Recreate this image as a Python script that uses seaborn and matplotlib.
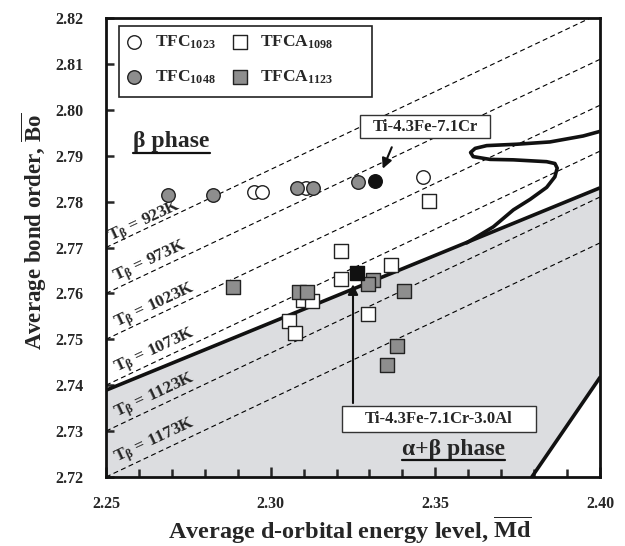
import numpy as np
import pandas as pd
import matplotlib
matplotlib.use('Agg')
import matplotlib.pyplot as plt
from matplotlib.patches import Rectangle
import seaborn as sns

# Marker data (Md, Bo)
tfc1023_md = [2.2949, 2.2973, 2.3107, 2.3462]
tfc1023_bo = [2.7822, 2.7822, 2.7830, 2.7854]
tfc1048_md = [2.2687, 2.2826, 2.3081, 2.3130, 2.3266]
tfc1048_bo = [2.7814, 2.7814, 2.7830, 2.7830, 2.7843]
tfca1098_md = [2.3482, 2.3213, 2.3213, 2.3364, 2.3296, 2.3097, 2.3124, 2.3057, 2.3074]
tfca1098_bo = [2.7802, 2.7692, 2.7631, 2.7662, 2.7556, 2.7586, 2.7584, 2.7540, 2.7514]
tfca1123_md = [2.2887, 2.3087, 2.3109, 2.3310, 2.3297, 2.3406, 2.3383, 2.3352]
tfca1123_bo = [2.7615, 2.7602, 2.7602, 2.7629, 2.7620, 2.7606, 2.7485, 2.7445]
alloy_cr = (2.3317, 2.7845)
alloy_al = (2.3261, 2.7645)

# iso-T_beta lines: values at Md = 2.25 and Md = 2.40
t_beta = [923, 973, 1023, 1073, 1123, 1173]
iso_start = [2.770, 2.760, 2.750, 2.740, 2.730, 2.720]
iso_end = [2.821, 2.811, 2.801, 2.791, 2.781, 2.771]
label_md = [2.2620, 2.2633, 2.2648, 2.2650, 2.2650, 2.2650]
label_bo = [2.7756, 2.7669, 2.7572, 2.7475, 2.7377, 2.7277]

# phase boundaries
bd_md = [2.25, 2.40]
bd_bo = [2.7389, 2.7830]
curve_md = [2.3595, 2.3676, 2.3737, 2.3788, 2.3838, 2.3863, 2.3870, 2.3863, 2.3838,
            2.3737, 2.3666, 2.3615, 2.3607, 2.3621, 2.3656, 2.3747, 2.3848, 2.3949, 2.4000]
curve_bo = [2.7710, 2.7745, 2.7782, 2.7805, 2.7831, 2.7854, 2.7873, 2.7883, 2.7887,
            2.7891, 2.7892, 2.7898, 2.7907, 2.7916, 2.7922, 2.7925, 2.7930, 2.7943, 2.7953]
alpha_md = [2.3793, 2.40]
alpha_bo = [2.72, 2.7417]

sns.set_style('white')
plt.rcParams['font.family'] = ['Liberation Serif', 'DejaVu Serif']
plt.rcParams['font.weight'] = 'bold'
plt.rcParams['axes.labelweight'] = 'bold'
plt.rcParams['mathtext.fontset'] = 'custom'
plt.rcParams['mathtext.rm'] = 'Liberation Serif:bold'
plt.rcParams['mathtext.it'] = 'Liberation Serif:bold'
plt.rcParams['mathtext.bf'] = 'Liberation Serif:bold'

fig, ax = plt.subplots(figsize=(6.25, 5.46), dpi=100)
fig.subplots_adjust(left=0.1696, right=0.96, top=0.967, bottom=0.1264)

# shaded alpha+beta region
poly_x = [bd_md[0], bd_md[0], bd_md[1], alpha_md[1], alpha_md[0]]
poly_y = [alpha_bo[0], bd_bo[0], bd_bo[1], alpha_bo[1], alpha_bo[0]]
ax.fill(poly_x, poly_y, color='#dcdde0', lw=0, zorder=0)

# iso lines
for s, e in zip(iso_start, iso_end):
    ax.plot(bd_md, [s, e], color='k', lw=0.8, ls=(0, (4.5, 3)), zorder=1)
for t, lx, ly in zip(t_beta, label_md, label_bo):
    ax.text(lx, ly, r'T$_{\mathrm{β}}$' + f' = {t}K', fontsize=12.5, fontweight='bold',
            rotation=25, ha='center', va='center', zorder=3)

ax.plot(bd_md, bd_bo, color='#111111', lw=2.6, solid_capstyle='butt', zorder=2)
ax.plot(curve_md, curve_bo, color='#111111', lw=2.6, solid_joinstyle='round', zorder=2)
ax.plot(alpha_md, alpha_bo, color='#111111', lw=2.6, zorder=2)

groups = [
    (r'$\mathrm{TFC}_{1023}$', tfc1023_md, tfc1023_bo, 'o', 'white'),
    (r'$\mathrm{TFC}_{1048}$', tfc1048_md, tfc1048_bo, 'o', '#8e8e8e'),
    (r'$\mathrm{TFCA}_{1098}$', tfca1098_md, tfca1098_bo, 's', 'white'),
    (r'$\mathrm{TFCA}_{1123}$', tfca1123_md, tfca1123_bo, 's', '#8e8e8e'),
]
for i, (name, xs, ys, m, fc) in enumerate(groups):
    df = pd.DataFrame({'md': xs, 'bo': ys})
    sns.scatterplot(data=df, x='md', y='bo', marker=m, color=fc, edgecolor='#222222',
                    linewidth=1.0, s=95, label=name, ax=ax, zorder=4 + i)
ax.scatter([alloy_cr[0]], [alloy_cr[1]], marker='o', s=95, color='#111111', zorder=9)
ax.scatter([alloy_al[0]], [alloy_al[1]], marker='s', s=95, color='#111111', zorder=9)

# annotation boxes
ax.add_patch(Rectangle((2.3271, 2.79386), 0.0395, 0.00501, fc='white', ec='#333333',
                       lw=1, zorder=10))
ax.text(2.34685, 2.79636, 'Ti-4.3Fe-7.1Cr', fontsize=12, ha='center', va='center', zorder=11)
ax.annotate('', xy=(2.3337, 2.7866), xytext=(2.3371, 2.7924),
            arrowprops=dict(arrowstyle='-|>', color='#111111', lw=1.5, mutation_scale=15), zorder=10)
ax.add_patch(Rectangle((2.3217, 2.72980), 0.0589, 0.00567, fc='white', ec='#333333',
                       lw=1, zorder=10))
ax.text(2.35115, 2.73264, 'Ti-4.3Fe-7.1Cr-3.0Al', fontsize=12, ha='center', va='center', zorder=11)
ax.annotate('', xy=(2.3250, 2.7626), xytext=(2.3250, 2.7355),
            arrowprops=dict(arrowstyle='-|>', color='#111111', lw=1.5, mutation_scale=15), zorder=10)

ax.text(2.2699, 2.7930, 'β phase', fontsize=17, ha='center', va='center', zorder=10)
ax.plot([2.2582, 2.2816], [2.7906, 2.7906], color='#111111', lw=1.6, zorder=10)
ax.text(2.3555, 2.7259, 'α+β phase', fontsize=17, ha='center', va='center', zorder=10)
ax.plot([2.3399, 2.3713], [2.7237, 2.7237], color='#111111', lw=1.6, zorder=10)

# legend with a wider frame drawn separately
ax.add_patch(Rectangle((0.0263, 0.8279), 0.5122, 0.1547, transform=ax.transAxes,
                       fc='white', ec='#222222', lw=1.2, zorder=11))
leg = ax.legend(loc='upper left', bbox_to_anchor=(0.0263, 0.9826), borderaxespad=0, ncol=2,
                prop={'size': 12.5, 'weight': 'bold'}, frameon=False,
                borderpad=0.45, labelspacing=1.0, handletextpad=0.8, columnspacing=1.0,
                handlelength=0.8)
leg.set_zorder(12)

ax.set_xlim(2.25, 2.40)
ax.set_ylim(2.72, 2.82)
ax.set_xticks(np.arange(2.25, 2.401, 0.05))
ax.set_xticks(np.arange(2.25, 2.401, 0.01), minor=True)
ax.set_yticks(np.arange(2.72, 2.821, 0.01))
ax.xaxis.set_major_formatter(matplotlib.ticker.FormatStrFormatter('%.2f'))
ax.yaxis.set_major_formatter(matplotlib.ticker.FormatStrFormatter('%.2f'))
ax.tick_params(axis='both', which='both', direction='in', width=1.8, labelsize=11.5,
               bottom=True, left=True, top=False, right=False)
ax.tick_params(axis='x', which='major', length=7, pad=14)
ax.tick_params(axis='x', which='minor', length=6)
ax.tick_params(axis='y', which='major', length=6, pad=16)
for sp in ax.spines.values():
    sp.set_linewidth(2)
    sp.set_color('#111111')

ax.set_xlabel(r'Average d-orbital energy level, $\overline{\mathrm{Md}}$', fontsize=17.5)
ax.set_ylabel(r'Average bond order, $\overline{\mathrm{Bo}}$', fontsize=16.5)
ax.xaxis.set_label_coords(0.494, -0.083)
ax.yaxis.set_label_coords(-0.115, 0.535)

fig.savefig('out.png', dpi=100)
